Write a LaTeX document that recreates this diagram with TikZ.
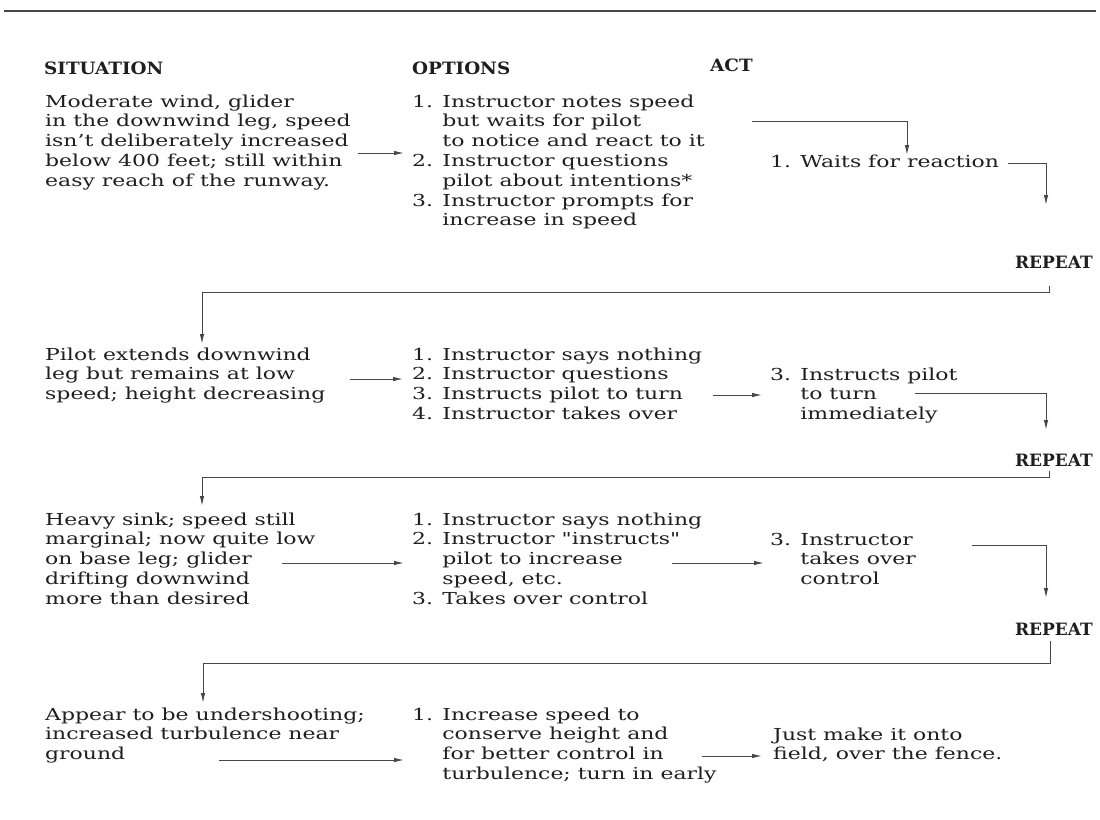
\documentclass[tikz,border=0pt]{standalone}
\usepackage{fontspec}
\setmainfont{DejaVu Serif}[FakeStretch=1.33]
\newfontfamily\qfont{DejaVu Serif}[FakeStretch=1.33, Ligatures=TeXOff]
\newfontfamily\hdfont{DejaVu Serif}[FakeStretch=1.08]
\newfontfamily\repfont{DejaVu Serif}
\usetikzlibrary{arrows.meta}
\definecolor{ink}{gray}{0.12}
\definecolor{linecol}{gray}{0.28}
\newcommand\txtblock[1]{\begin{tabular}[t]{@{}l@{}}#1\end{tabular}}
\newcommand\ind{\phantom{1. }}
\newcommand\sq{{\qfont"}}
\begin{document}
\begin{tikzpicture}[x=1pt,y=-1pt,
  txt/.style={inner sep=0pt, anchor=base west, text=ink, font=\fontsize{16.5}{19.8}\selectfont},
  hd/.style={inner sep=0pt, anchor=base west, text=ink, font=\hdfont\bfseries\fontsize{17}{19}\selectfont},
  rep/.style={inner sep=0pt, anchor=base east, text=ink, font=\repfont\bfseries\fontsize{17}{19}\selectfont},
  conn/.style={draw=linecol, line width=1pt},
  arr/.style={conn, -{Latex[length=10pt,width=4.5pt]}}]
\fill[white] (0,0) rectangle (1100,819);
\useasboundingbox (0,0) rectangle (1100,819);
% top rule
\draw[draw=linecol, line width=2pt] (4,11) -- (1096,11);
% headers
\node[hd] (hsit) at (44,74) {SITUATION};
\node[hd] (hopt) at (412,74) {OPTIONS};
\node[hd] (hact) at (710,71) {ACT};
% ---------- row 1
\node[txt] (s1) at (45,107) {\txtblock{Moderate wind, glider\\in the downwind leg, speed\\isn't deliberately increased\\below 400 feet; still within\\easy reach of the runway.}};
\node[txt] (o1) at (412,107) {\txtblock{1. Instructor notes speed\\\ind but waits for pilot\\\ind to notice and react to it\\2. Instructor questions\\\ind pilot about intentions*\\3. Instructor prompts for\\\ind increase in speed}};
\node[txt] (a1) at (770,167) {1. Waits for reaction};
\node[rep] (r1) at (1093,268) {REPEAT};
\coordinate (p1a) at (358,153); \coordinate (p1b) at (404,153);
\draw[arr] (p1a) -- (p1b);
\coordinate (q1a) at (752,121); \coordinate (q1b) at (907,155);
\draw[arr] (q1a) -| (q1b);
\coordinate (w1a) at (1008,163); \coordinate (w1b) at (1046,205);
\draw[arr] (w1a) -| (w1b);
\coordinate (l1a) at (1049,286); \coordinate (l1b) at (1049,292); \coordinate (l1c) at (202,344);
\draw[arr] (l1a) -- (l1b) -| (l1c);
% ---------- row 2
\node[txt] (s2) at (45,360) {\txtblock{Pilot extends downwind\\leg but remains at low\\speed; height decreasing}};
\node[txt] (o2) at (412,360) {\txtblock{1. Instructor says nothing\\2. Instructor questions\\3. Instructs pilot to turn\\4. Instructor takes over}};
\node[txt] (a2) at (770,380) {\txtblock{3. Instructs pilot\\\ind to turn\\\ind immediately}};
\node[rep] (r2) at (1093,466) {REPEAT};
\coordinate (p2a) at (350,379); \coordinate (p2b) at (403,379);
\draw[arr] (p2a) -- (p2b);
\coordinate (q2a) at (713,395); \coordinate (q2b) at (762,395);
\draw[arr] (q2a) -- (q2b);
\coordinate (w2a) at (915,393); \coordinate (w2b) at (1046,430);
\draw[arr] (w2a) -| (w2b);
\coordinate (l2a) at (1049,471); \coordinate (l2b) at (1049,477); \coordinate (l2c) at (202,506);
\draw[arr] (l2a) -- (l2b) -| (l2c);
% ---------- row 3
\node[txt] (s3) at (45,525) {\txtblock{Heavy sink; speed still\\marginal; now quite low\\on base leg; glider\\drifting downwind\\more than desired}};
\node[txt] (o3) at (412,525) {\txtblock{1. Instructor says nothing\\2. Instructor \sq instructs\sq\\\ind pilot to increase\\\ind speed, etc.\\3. Takes over control}};
\node[txt] (a3) at (770,545) {\txtblock{3. Instructor\\\ind takes over\\\ind control}};
\node[rep] (r3) at (1093,635) {REPEAT};
\coordinate (p3a) at (282,563); \coordinate (p3b) at (404,563);
\draw[arr] (p3a) -- (p3b);
\coordinate (q3a) at (672,563); \coordinate (q3b) at (764,563);
\draw[arr] (q3a) -- (q3b);
\coordinate (w3a) at (972,545); \coordinate (w3b) at (1046,598);
\draw[arr] (w3a) -| (w3b);
\coordinate (l3a) at (1050,641); \coordinate (l3b) at (1050,663); \coordinate (l3c) at (203,703);
\draw[arr] (l3a) -- (l3b) -| (l3c);
% ---------- row 4
\node[txt] (s4) at (45,720) {\txtblock{Appear to be undershooting;\\increased turbulence near\\ground}};
\node[txt] (o4) at (412,720) {\txtblock{1. Increase speed to\\\ind conserve height and\\\ind for better control in\\\ind turbulence; turn in early}};
\node[txt] (a4) at (773,740) {\txtblock{Just make it onto\\field, over the fence.}};
\coordinate (p4a) at (219,760); \coordinate (p4b) at (404,760);
\draw[arr] (p4a) -- (p4b);
\coordinate (q4a) at (702,756); \coordinate (q4b) at (762,756);
\draw[arr] (q4a) -- (q4b);
\end{tikzpicture}
\end{document}
